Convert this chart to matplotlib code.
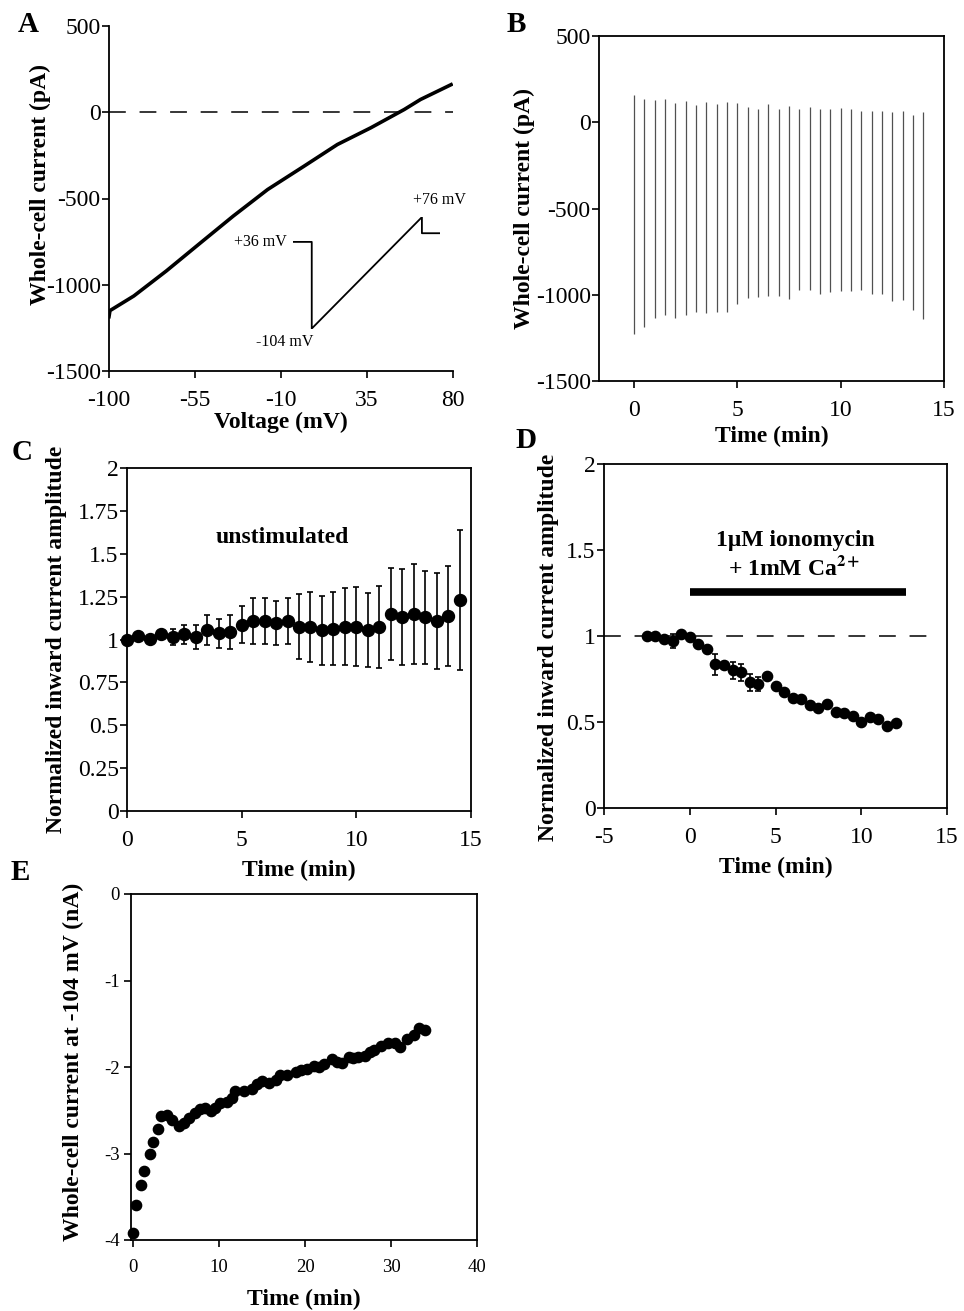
import matplotlib
matplotlib.use('Agg')
import matplotlib.pyplot as plt

plt.rcParams['font.family'] = ['Liberation Serif', 'DejaVu Serif']
plt.rcParams['mathtext.fontset'] = 'stix'
plt.rcParams['axes.unicode_minus'] = False

# ---------------- data ----------------
# Panel A: I-V ramp
a_voltage = [-100, -99.5, -87, -70, -52, -35, -17, 2, 19.5, 37, 54.5, 63, 79]
a_current = [-1185, -1150, -1065, -920, -756, -602, -448, -313, -187, -90, 16, 74, 160]
a_xticks = [-100, -55, -10, 35, 80]
a_yticks = [500, 0, -500, -1000, -1500]
# voltage protocol (inset): time (ms) and voltage (mV)
prot_time = [0, 50, 50, 350, 350, 400]
prot_volt = [36, 36, -104, 76, 50, 50]

# Panel B: ramp current traces (top and bottom of each sweep)
b_time = [0, 0.5, 1, 1.5, 2, 2.5, 3, 3.5, 4, 4.5, 5, 5.5, 6, 6.5, 7, 7.5, 8, 8.5,
          9, 9.5, 10, 10.5, 11, 11.5, 12, 12.5, 13, 13.5, 14]
b_top = [160, 135, 131, 135, 112, 122, 102, 116, 106, 116, 112, 87, 77, 106, 77, 97,
         77, 89, 77, 77, 81, 77, 68, 68, 68, 62, 68, 44, 58]
b_bottom = [-1226, -1187, -1137, -1120, -1137, -1120, -1098, -1108, -1098, -1098,
            -1056, -1017, -1014, -1008, -1008, -1023, -973, -973, -994, -985, -981,
            -981, -973, -994, -994, -1037, -1033, -1089, -1139]
b_xticks = [0, 5, 10, 15]

# Panel C: unstimulated
c_time = [0, 0.5, 1, 1.5, 2, 2.5, 3, 3.5, 4, 4.5, 5, 5.5, 6, 6.5, 7, 7.5, 8, 8.5,
          9, 9.5, 10, 10.5, 11, 11.5, 12, 12.5, 13, 13.5, 14, 14.5]
c_mean = [1.00, 1.02, 1.005, 1.03, 1.015, 1.03, 1.015, 1.055, 1.035, 1.045, 1.087,
          1.107, 1.107, 1.097, 1.107, 1.074, 1.074, 1.054, 1.064, 1.074, 1.074, 1.054,
          1.074, 1.148, 1.129, 1.148, 1.129, 1.107, 1.138, 1.23]
c_err = [0, 0, 0, 0, 0.045, 0.055, 0.07, 0.085, 0.087, 0.10, 0.11, 0.133, 0.135,
         0.13, 0.135, 0.19, 0.205, 0.20, 0.215, 0.225, 0.23, 0.215, 0.24, 0.27, 0.28,
         0.29, 0.27, 0.28, 0.29, 0.41]
c_yticks = [0, 0.25, 0.5, 0.75, 1, 1.25, 1.5, 1.75, 2]
c_yticklabels = ['0', '0.25', '0.5', '0.75', '1', '1.25', '1.5', '1.75', '2']

# Panel D: ionomycin + Ca2+
d_time = [-2.5, -2, -1.5, -1, -0.5, 0, 0.5, 1, 1.5, 2, 2.5, 3, 3.5, 4, 4.5, 5, 5.5,
          6, 6.5, 7, 7.5, 8, 8.5, 9, 9.5, 10, 10.5, 11, 11.5, 12]
d_mean = [0.998, 1.0, 0.98, 0.97, 1.01, 0.995, 0.955, 0.925, 0.835, 0.83, 0.80, 0.79,
          0.73, 0.72, 0.766, 0.71, 0.673, 0.64, 0.633, 0.60, 0.58, 0.605, 0.56, 0.555,
          0.535, 0.50, 0.528, 0.516, 0.474, 0.497]
d_err = [0, 0, 0, 0.04, 0, 0, 0, 0, 0.06, 0, 0.05, 0.05, 0.05, 0.04, 0, 0, 0, 0, 0,
         0, 0, 0, 0, 0, 0, 0, 0, 0, 0, 0]
d_yticks = [0, 0.5, 1, 1.5, 2]
d_yticklabels = ['0', '0.5', '1', '1.5', '2']
d_xticks = [-5, 0, 5, 10, 15]
d_treatment = [0, 12.6]   # application period (min)
d_baseline = [-5, 14.1]   # extent of the dashed reference line (min)

# Panel E: whole-cell current at -104 mV
e_time = [0, 0.38, 0.93, 1.31, 1.93, 2.28, 2.91, 3.26, 3.95, 4.53, 5.3, 5.9, 6.47,
          7.24, 7.8, 8.4, 9.0, 9.57, 10.15, 10.9, 11.5, 11.9, 12.9, 13.8, 14.4, 15.0,
          15.8, 16.6, 17.1, 17.9, 18.9, 19.5, 20.2, 21.0, 21.6, 22.2, 23.1, 23.7, 24.3,
          25.1, 25.6, 26.2, 27.0, 27.5, 28.0, 28.8, 29.7, 30.5, 31.1, 31.9, 32.7, 33.3,
          34.0]
e_current = [-3.92, -3.59, -3.36, -3.20, -3.00, -2.87, -2.72, -2.57, -2.55, -2.61,
             -2.68, -2.65, -2.59, -2.53, -2.49, -2.47, -2.51, -2.47, -2.42, -2.40,
             -2.36, -2.28, -2.28, -2.26, -2.20, -2.16, -2.18, -2.15, -2.09, -2.09,
             -2.06, -2.03, -2.02, -1.99, -2.00, -1.97, -1.91, -1.94, -1.95, -1.88,
             -1.90, -1.88, -1.87, -1.83, -1.80, -1.76, -1.72, -1.72, -1.77, -1.68,
             -1.63, -1.55, -1.57]
e_xticks = [0, 10, 20, 30, 40]
e_yticks = [0, -1, -2, -3, -4]

# ---------------- figure ----------------
W, H = 964, 1311
fig = plt.figure(figsize=(W / 100, H / 100), dpi=100)


def rect(l, t, r, b):
    return [l / W, 1 - b / H, (r - l) / W, (b - t) / H]


LBL = 17
TCK = 17
SPW = 1.3


def style(ax, tsize=TCK, xpad=8.5, ypad=1.0):
    for s in ax.spines.values():
        s.set_linewidth(SPW)
    ax.tick_params(axis='both', direction='out', length=5, width=1.2, labelsize=tsize)
    ax.tick_params(axis='x', pad=xpad)
    ax.tick_params(axis='y', pad=ypad)


def labels(ax, xl, yl, xy, yy):
    ax.set_xlabel(xl, fontsize=LBL, fontweight='bold')
    ax.set_ylabel(yl, fontsize=LBL, fontweight='bold')
    ax.xaxis.set_label_coords(*xy)
    ax.yaxis.set_label_coords(*yy)
    ax.xaxis.label.set_va('center')
    ax.yaxis.label.set_va('center')


def letter(x, y, s):
    fig.text(x / W, 1 - y / H, s, ha='center', va='center', fontsize=21, fontweight='bold')


# ---- A ----
axA = fig.add_axes(rect(109, 26, 453, 371))
axA.plot(a_voltage, a_current, color='black', lw=2.6, solid_joinstyle='round')
axA.axhline(0, color='black', lw=1.1, dashes=(11, 9))
axA.set_xlim(-100, 80)
axA.set_ylim(-1500, 500)
axA.set_xticks(a_xticks)
axA.set_yticks(a_yticks)
axA.spines['top'].set_visible(False)
axA.spines['right'].set_visible(False)
style(axA)
labels(axA, 'Voltage (mV)', 'Whole-cell current (pA)', (0.5, -0.148), (-0.2, 0.54))
ins = axA.inset_axes([0.536, 0.123, 0.427, 0.323])
ins.plot(prot_time, prot_volt, color='black', lw=1.3)
ins.set_xlim(0, 400)
ins.set_ylim(-104, 76)
ins.axis('off')
ins.text(-18, 36, '+36 mV', ha='right', va='center', fontsize=11.5, clip_on=False)
ins.text(398, 103, '+76 mV', ha='center', va='center', fontsize=11.5, clip_on=False)
ins.text(-23, -126, '-104 mV', ha='center', va='center', fontsize=11.5, clip_on=False)
letter(28, 24, 'A')

# ---- B ----
axB = fig.add_axes(rect(599, 36, 944, 381))
axB.vlines(b_time, b_bottom, b_top, colors='#505050', lw=0.9)
axB.set_xlim(-1.7, 15)
axB.set_ylim(-1500, 500)
axB.set_xticks(b_xticks)
axB.set_yticks(a_yticks)
style(axB)
labels(axB, 'Time (min)', 'Whole-cell current (pA)', (0.5, -0.162), (-0.217, 0.5))
letter(516, 24, 'B')

# ---- C ----
axC = fig.add_axes(rect(127, 468, 471, 811))
axC.errorbar(c_time, c_mean, yerr=c_err, fmt='o', color='black', ms=8.6,
             elinewidth=1.2, capsize=2.2, capthick=1.2, clip_on=False, zorder=3)
axC.set_xlim(0, 15)
axC.set_ylim(0, 2)
axC.set_xticks(b_xticks)
axC.set_yticks(c_yticks)
axC.set_yticklabels(c_yticklabels)
style(axC)
axC.text(6.78, 1.596, 'unstimulated', ha='center', va='center', fontsize=LBL,
         fontweight='bold')
labels(axC, 'Time (min)', 'Normalized inward current amplitude', (0.5, -0.172),
       (-0.206, 0.5))
letter(22, 452, 'C')

# ---- D ----
axD = fig.add_axes(rect(604, 464, 947, 808))
axD.plot(d_baseline, [1, 1], color='black', lw=1.1, dashes=(11, 9))
axD.errorbar(d_time, d_mean, yerr=d_err, fmt='o', color='black', ms=7.4,
             elinewidth=1.2, capsize=2.0, capthick=1.2, zorder=3)
axD.plot(d_treatment, [1.253, 1.253], color='black', lw=5.5, solid_capstyle='butt')
axD.text(6.18, 1.557, '1μM ionomycin', ha='center', va='center', fontsize=LBL,
         fontweight='bold')
axD.text(6.1, 1.393, r'+ 1mM Ca$^{\mathbf{2+}}$', ha='center', va='center',
         fontsize=LBL, fontweight='bold')
axD.set_xlim(-5, 15)
axD.set_ylim(0, 2)
axD.set_xticks(d_xticks)
axD.set_yticks(d_yticks)
axD.set_yticklabels(d_yticklabels)
style(axD)
labels(axD, 'Time (min)', 'Normalized inward current amplitude', (0.5, -0.172),
       (-0.163, 0.468))
letter(526, 440, 'D')

# ---- E ----
axE = fig.add_axes(rect(131, 894, 477, 1240))
axE.plot(e_time, e_current, 'o', color='black', ms=7.4, clip_on=False, zorder=3)
axE.set_xlim(-0.25, 40)
axE.set_ylim(-4, 0)
axE.set_xticks(e_xticks)
axE.set_yticks(e_yticks)
style(axE, tsize=13.5, xpad=8.5, ypad=3)
labels(axE, 'Time (min)', 'Whole-cell current at -104 mV (nA)', (0.5, -0.173),
       (-0.165, 0.514))
letter(20, 873, 'E')

fig.savefig('out.png', dpi=100)
